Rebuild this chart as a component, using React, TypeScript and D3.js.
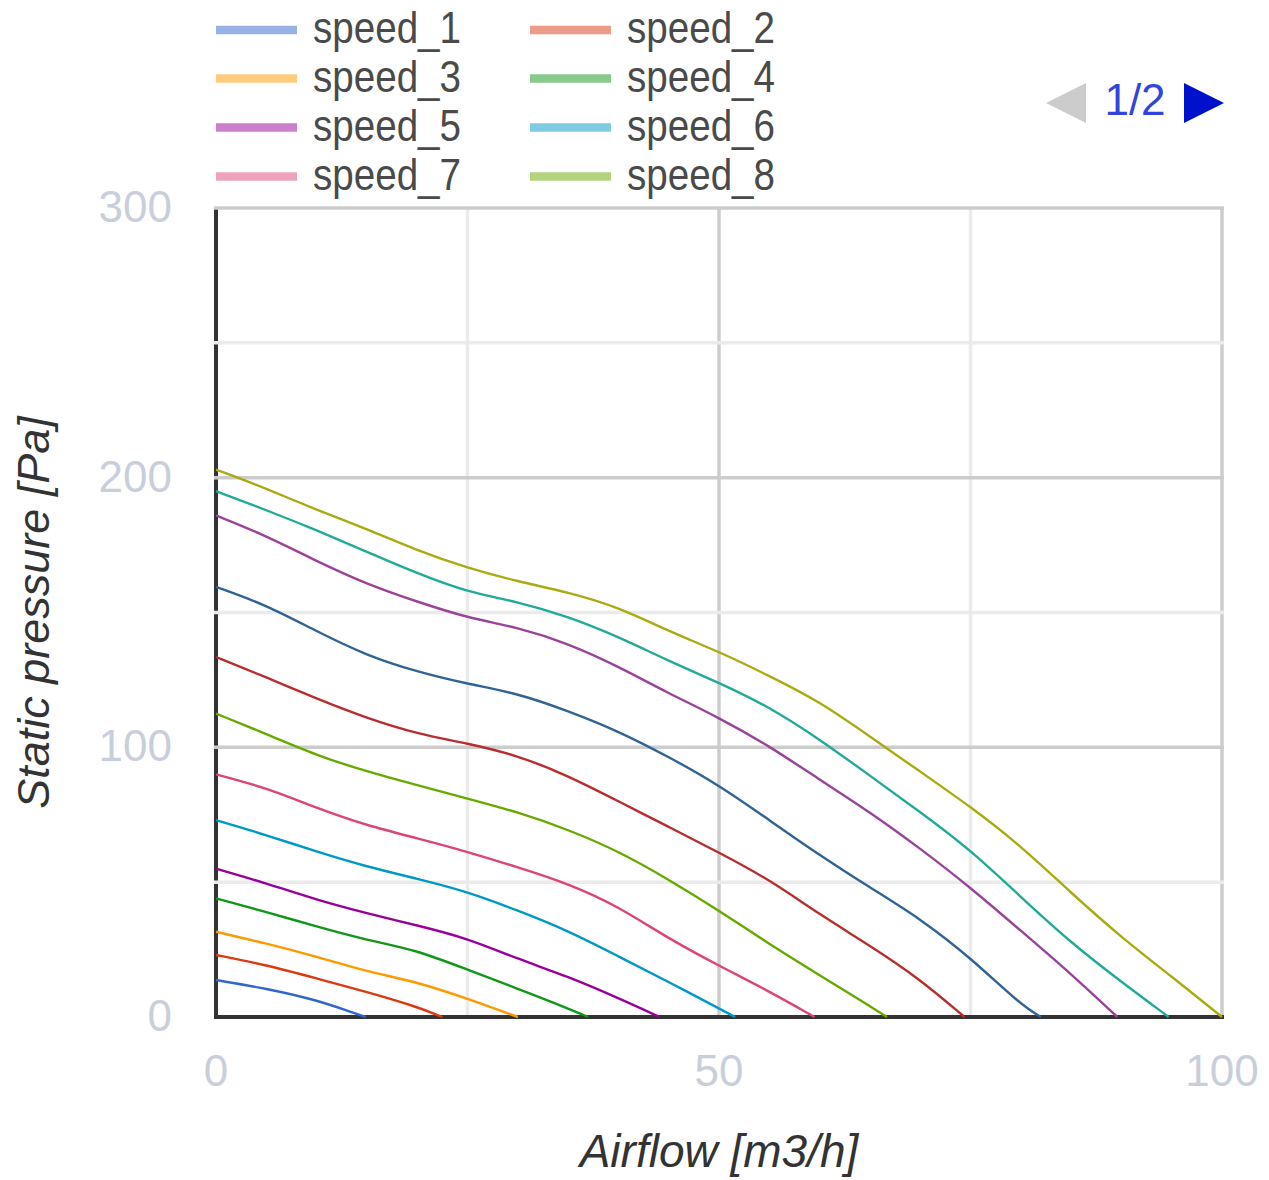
import React from "react";
import * as d3 from "d3";

// ---- data ----
const seriesNames = [
  "speed_1", "speed_2", "speed_3", "speed_4", "speed_5", "speed_6", "speed_7",
  "speed_8", "speed_9", "speed_10", "speed_11", "speed_12", "speed_13",
];
const seriesColors = [
  "#3366cc", "#dc3912", "#ff9900", "#109618", "#990099", "#0099c6", "#dd4477",
  "#66aa00", "#b82e2e", "#316395", "#994499", "#22aa99", "#aaaa11",
];

// [airflow m3/h, static pressure Pa]
const speed_1 = [[0, 13.7], [5, 10.6], [10, 6.3], [13.3, 2], [14.9, 0]];
const speed_2 = [[0, 23], [5, 19.3], [10, 14.3], [15, 9.3], [20, 3.8], [22.5, 0]];
const speed_3 = [[0, 31.6], [5, 27.3], [10, 22.4], [15, 16.8], [20, 13], [25, 6.8], [30, 0]];
const speed_4 = [[0, 44], [5, 39], [10, 33.5], [15, 28.5], [20, 24.8], [25, 17.5], [30, 10.5], [33.8, 5], [37, 0]];
const speed_5 = [[0, 55], [5, 49.6], [10, 43.4], [15, 38.4], [20, 34], [25, 29.2], [30, 21.5], [35, 15], [40, 7], [44.1, 0]];
const speed_6 = [[0, 73], [5, 67.5], [10, 61.3], [15, 55.7], [20, 51.3], [25, 46.5], [30, 39.5], [35, 32], [40, 22.5], [45, 13], [51.6, 0]];
const speed_7 = [[0, 90], [5, 85], [10, 77.5], [15, 71], [20, 66.3], [25, 61.3], [30, 55.5], [35, 49.5], [40, 41], [45, 29], [50, 19], [55, 9.5], [59.5, 0]];
const speed_8 = [[0, 112.5], [5, 105], [10, 97], [15, 91], [20, 86], [25, 81], [30, 76], [35, 69.5], [40, 61.5], [45, 51], [50, 39.5], [55, 27], [60, 15.5], [65, 4], [66.7, 0]];
const speed_9 = [[0, 133.5], [5, 126], [10, 118], [15, 110.8], [20, 105], [25, 101.5], [30, 97], [35, 89.5], [40, 80], [45, 70.5], [50, 61], [55, 51], [60, 38], [65, 26.5], [70, 14], [74.4, 0]];
const speed_10 = [[0, 159.5], [5, 152.8], [10, 143], [15, 134], [20, 128], [25, 123.5], [30, 120], [35, 113.5], [40, 106], [45, 96.5], [50, 86], [55, 73], [60, 60], [65, 48], [70, 36.5], [75, 22], [80, 4.5], [82, 0]];
const speed_11 = [[0, 186], [5, 178.5], [10, 169], [15, 160.5], [20, 154], [25, 148], [30, 144.5], [35, 138.5], [40, 130], [45, 120], [50, 111], [55, 100.5], [60, 88], [65, 76], [70, 62.5], [75, 48], [80, 32], [85, 16], [89.6, 0]];
const speed_12 = [[0, 195], [5, 188], [10, 180.5], [15, 172.5], [20, 164.5], [25, 157.5], [30, 154], [35, 148.5], [40, 141], [45, 132], [50, 124], [55, 115], [60, 103], [65, 89.5], [70, 76], [75, 62], [80, 44.5], [85, 27.5], [90, 13], [94.7, 0]];
const speed_13 = [[0, 203], [5, 196], [10, 188], [15, 181], [20, 173], [25, 166.5], [30, 161.5], [35, 157.5], [40, 152], [45, 143], [50, 135.5], [55, 126.5], [60, 117], [65, 104], [70, 91], [75, 78], [80, 63.5], [85, 46], [90, 29.5], [95, 15], [100, 0]];

const seriesData = [
  speed_1, speed_2, speed_3, speed_4, speed_5, speed_6, speed_7,
  speed_8, speed_9, speed_10, speed_11, speed_12, speed_13,
];

const xTickValues = [0, 50, 100];
const xGridValues = [0, 25, 50, 75, 100];
const yTickValues = [0, 100, 200, 300];
const yGridValues = [0, 50, 100, 150, 200, 250, 300];
const legendCount = 8;
const pagerText = "1/2";
const xTitle = "Airflow [m3/h]";
const yTitle = "Static pressure [Pa]";

// ---- layout ----
const W = 1269;
const H = 1180;
const left = 216;
const right = 1222;
const top = 208;
const bottom = 1017;
const FONT = "Arial, 'Liberation Sans', sans-serif";

export default function App() {
  const x = d3.scaleLinear().domain([0, 100]).range([left, right]);
  const y = d3.scaleLinear().domain([0, 300]).range([bottom, top]);
  const line = d3
    .line<number[]>()
    .x((d) => x(d[0]))
    .y((d) => y(d[1]))
    .curve(d3.curveBasis);

  const legendCols = [216, 530];
  const legendRows = [30, 78.5, 127.5, 176.5];

  return (
    <svg
      width={W}
      height={H}
      style={{ position: "absolute", left: 0, top: 0, display: "block", background: "#fff" }}
      fontFamily={FONT}
    >
      <rect x={0} y={0} width={W} height={H} fill="#fff" />

      {/* legend */}
      {seriesNames.slice(0, legendCount).map((name, i) => {
        const cx = legendCols[i % 2];
        const cy = legendRows[Math.floor(i / 2)];
        return (
          <g key={name}>
            <line
              x1={cx}
              x2={cx + 81}
              y1={cy}
              y2={cy}
              stroke={seriesColors[i]}
              strokeOpacity={0.5}
              strokeWidth={8.5}
            />
            <text
              x={cx + 97}
              y={cy + 13}
              fontSize={44}
              fill="#4a4a4a"
              textLength={148}
              lengthAdjust="spacingAndGlyphs"
            >
              {name}
            </text>
          </g>
        );
      })}

      {/* pager */}
      <polygon points="1086,83 1086,123 1046,103" fill="#cccccc" />
      <text x={1135} y={115} fontSize={44} fill="#3344dd" textAnchor="middle">
        {pagerText}
      </text>
      <polygon points="1184,83 1184,123 1224,103" fill="#0011cc" />

      {/* vertical baseline (x = 0) */}
      <line x1={x(0)} x2={x(0)} y1={top} y2={bottom} stroke="#333" strokeWidth={4} />

      {/* grid */}
      {xGridValues.filter((v) => v !== 0).map((v) => (
        <line
          key={"gx" + v}
          x1={x(v)}
          x2={x(v)}
          y1={top}
          y2={bottom}
          stroke={v % 50 === 0 ? "#cccccc" : "#ebebeb"}
          strokeWidth={3.5}
        />
      ))}
      {yGridValues.filter((v) => v !== 0).map((v) => (
        <line
          key={"gy" + v}
          x1={left - 2}
          x2={right + 2}
          y1={y(v)}
          y2={y(v)}
          stroke={v % 100 === 0 ? "#cccccc" : "#ebebeb"}
          strokeWidth={3.5}
        />
      ))}

      {/* horizontal baseline (y = 0) */}
      <line x1={left - 2} x2={right + 2} y1={y(0)} y2={y(0)} stroke="#333" strokeWidth={4} />

      {/* series */}
      {seriesData.map((pts, i) => (
        <path
          key={seriesNames[i]}
          d={line(pts) || ""}
          fill="none"
          stroke={seriesColors[i]}
          strokeWidth={2.4}
          strokeLinejoin="round"
        />
      ))}

      {/* y tick labels */}
      {yTickValues.map((v) => (
        <text
          key={"yt" + v}
          x={172}
          y={y(v) + 14}
          fontSize={44}
          fill="#c9cedb"
          textAnchor="end"
        >
          {v}
        </text>
      ))}

      {/* x tick labels */}
      {xTickValues.map((v) => (
        <text
          key={"xt" + v}
          x={x(v)}
          y={1086}
          fontSize={44}
          fill="#c9cedb"
          textAnchor="middle"
        >
          {v}
        </text>
      ))}

      {/* axis titles */}
      <text
        x={(left + right) / 2}
        y={1167}
        fontSize={46}
        fontStyle="italic"
        fill="#333"
        textAnchor="middle"
      >
        {xTitle}
      </text>
      <text
        transform={`translate(49, ${(top + bottom) / 2}) rotate(-90)`}
        fontSize={45}
        fontStyle="italic"
        fill="#333"
        textAnchor="middle"
      >
        {yTitle}
      </text>
    </svg>
  );
}
